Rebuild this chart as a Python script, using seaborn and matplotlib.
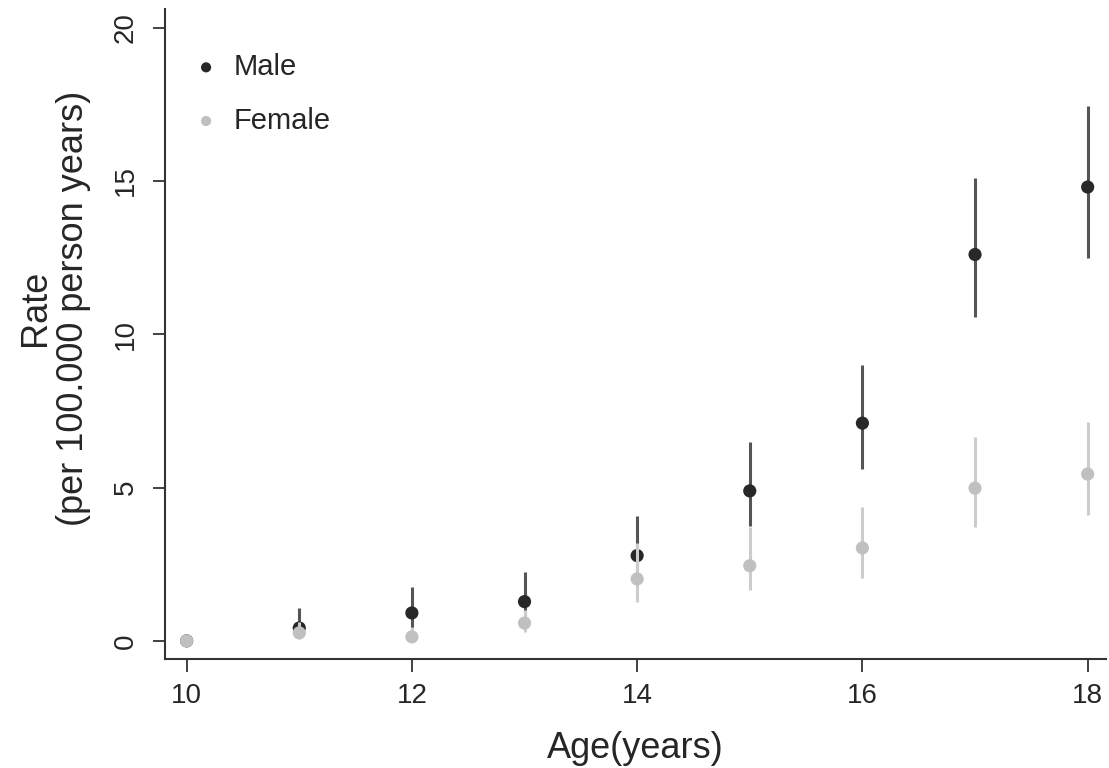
import numpy as np
import pandas as pd
import matplotlib
matplotlib.use("Agg")
import matplotlib.pyplot as plt
import seaborn as sns

# Values
ages = [10, 11, 12, 13, 14, 15, 16, 17, 18]
male_rate = [0.0, 0.42, 0.91, 1.28, 2.78, 4.89, 7.10, 12.60, 14.80]
male_low = [0.0, 0.10, 0.40, 0.60, 1.90, 3.75, 5.60, 10.55, 12.50]
male_high = [0.0, 1.07, 1.75, 2.25, 4.07, 6.50, 9.00, 15.10, 17.45]
female_rate = [0.0, 0.26, 0.13, 0.58, 2.02, 2.45, 3.03, 4.98, 5.44]
female_low = [0.0, 0.05, 0.00, 0.30, 1.27, 1.66, 2.05, 3.71, 4.10]
female_high = [0.0, 0.60, 0.45, 1.00, 3.20, 3.70, 4.37, 6.65, 7.13]

male_df = pd.DataFrame({"Age": ages, "Rate": male_rate, "lo": male_low,
                        "hi": male_high, "Sex": "Male"})
female_df = pd.DataFrame({"Age": ages, "Rate": female_rate, "lo": female_low,
                          "hi": female_high, "Sex": "Female"})

sns.set_theme(style="ticks")
plt.rcParams['font.family'] = ['Liberation Sans', 'DejaVu Sans']

fig = plt.figure(figsize=(11.09, 7.68), dpi=100)
ax = fig.add_axes([0.149, 0.142, 0.848, 0.846])

dot_colors = {"Male": "#282828", "Female": "#c0c0c0"}
line_colors = {"Male": "#555555", "Female": "#cccccc"}

# intervals first, then points; female drawn over male
for sex, grp in [("Male", male_df), ("Female", female_df)]:
    ax.vlines(grp["Age"], grp["lo"], grp["hi"], color=line_colors[sex],
              linewidth=2.2, zorder=2 if sex == "Male" else 4)
    sns.scatterplot(data=grp, x="Age", y="Rate", color=dot_colors[sex],
                    s=90, edgecolor="none", label=sex, ax=ax,
                    zorder=3 if sex == "Male" else 5)

ax.set_xlim(9.81, 18.16)
ax.set_ylim(-0.59, 20.6)
ax.set_xticks([10, 12, 14, 16, 18])
ax.set_yticks([0, 5, 10, 15, 20])
ax.tick_params(axis='both', labelsize=20, length=9, width=1.3, color="#333333")
ax.tick_params(axis='x', pad=8)
ax.tick_params(axis='y', pad=10)
for lab in ax.get_yticklabels():
    lab.set_rotation(90)
    lab.set_va('center')
for s in ["top", "right"]:
    ax.spines[s].set_visible(False)
for s in ["left", "bottom"]:
    ax.spines[s].set_linewidth(1.5)
    ax.spines[s].set_color("#333333")

ax.set_xlabel("Age(years)", fontsize=26, labelpad=16)
ax.set_ylabel("Rate\n(per 100.000 person years)", fontsize=26, labelpad=16,
              linespacing=1.1)
ax.yaxis.label.set_y(0.54)

ax.legend(loc="upper left", bbox_to_anchor=(0.0, 0.973), frameon=False,
          fontsize=21, handlelength=1.0, handletextpad=0.43,
          labelspacing=0.88, markerscale=0.77)

fig.savefig("out.png", dpi=100)
